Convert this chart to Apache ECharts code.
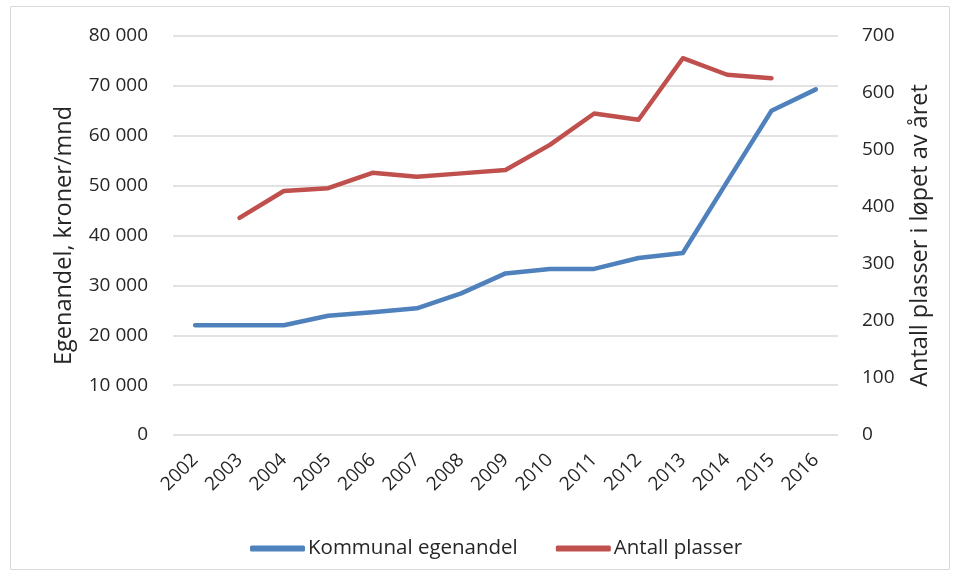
<!DOCTYPE html>
<html>
<head>
<meta charset="utf-8">
<script src="https://cdn.jsdelivr.net/npm/echarts@6/dist/echarts.min.js"></script>
<style>
  html, body { margin: 0; padding: 0; background: #fff; }
  #chart { width: 958px; height: 578px; }
</style>
</head>
<body>
<div id="chart"></div>
<script>
// data
const years = ['2002', '2003', '2004', '2005', '2006', '2007', '2008', '2009',
  '2010', '2011', '2012', '2013', '2014', '2015', '2016'];
const egenandel = [22000, 22000, 22000, 23900, 24600, 25400, 28400, 32400,
  33300, 33300, 35500, 36500, 50800, 65000, 69300];
const plasser = [null, 381, 428, 433, 460, 453, 459, 465,
  509, 564, 553, 661, 632, 626, null];

const font = 'Open Sans, Liberation Sans, sans-serif';
const txt = '#262626';

function spaced(v) {
  return String(v).replace(/\B(?=(\d{3})+(?!\d))/g, ' ');
}

const chart = echarts.init(document.getElementById('chart'), null, { renderer: 'canvas' });

chart.setOption({
  animation: false,
  textStyle: { fontFamily: font },
  graphic: [{
    type: 'rect',
    shape: { x: 10.5, y: 6.5, width: 939, height: 563 },
    style: { fill: 'none', stroke: '#d9d9d9', lineWidth: 1 },
    silent: true
  }],
  grid: { left: 173, right: 120, top: 36, bottom: 143 },
  legend: {
    bottom: 14,
    left: 245,
    itemWidth: 55,
    itemHeight: 6,
    itemGap: 38,
    icon: 'roundRect',
    textStyle: { fontSize: 20.5, color: txt, fontFamily: font, padding: [0, 0, 0, -2] },
    data: ['Kommunal egenandel', 'Antall plasser']
  },
  xAxis: {
    type: 'category',
    data: years,
    boundaryGap: true,
    axisLine: { show: false },
    axisTick: { show: false },
    axisLabel: { rotate: 45, margin: 22, fontSize: 19, color: txt, fontFamily: font }
  },
  yAxis: [{
    type: 'value',
    min: 0, max: 80000, interval: 10000,
    name: 'Egenandel, kroner/mnd',
    nameLocation: 'middle',
    nameGap: 97,
    nameRotate: 90,
    nameTextStyle: { fontSize: 23.5, color: txt, fontFamily: font },
    axisLine: { show: false },
    axisTick: { show: false },
    axisLabel: { margin: 25, fontSize: 19, color: txt, fontFamily: font, formatter: spaced },
    splitLine: { lineStyle: { color: '#d9d9d9', width: 1.5 } }
  }, {
    type: 'value',
    position: 'right',
    min: 0, max: 700, interval: 100,
    name: 'Antall plasser i løpet av året',
    nameLocation: 'middle',
    nameGap: 70,
    nameRotate: 90,
    nameTextStyle: { fontSize: 23.5, color: txt, fontFamily: font },
    axisLine: { show: false },
    axisTick: { show: false },
    axisLabel: { margin: 24, fontSize: 19, color: txt, fontFamily: font },
    splitLine: { show: false }
  }],
  series: [{
    name: 'Kommunal egenandel',
    type: 'line',
    yAxisIndex: 0,
    data: egenandel,
    symbol: 'none',
    color: '#4F81BD',
    lineStyle: { width: 4.5, color: '#4F81BD', cap: 'round', join: 'round' }
  }, {
    name: 'Antall plasser',
    type: 'line',
    yAxisIndex: 1,
    data: plasser,
    symbol: 'none',
    color: '#C0504D',
    lineStyle: { width: 4.5, color: '#C0504D', cap: 'round', join: 'round' }
  }]
});
</script>
</body>
</html>
